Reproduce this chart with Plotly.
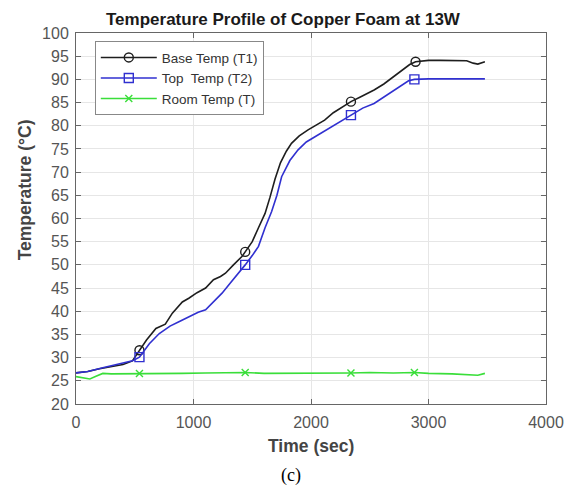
import plotly.graph_objects as go

# ---- data ----
base_t = [0, 100, 200, 300, 400, 480, 540, 600, 680, 760, 820, 905, 960, 1030, 1103, 1170,
          1230, 1272, 1340, 1412, 1440, 1500, 1553, 1609, 1650, 1694, 1740, 1790, 1834, 1900,
          1975, 2050, 2116, 2190, 2256, 2340, 2420, 2537, 2620, 2700, 2780, 2840, 2890, 3000,
          3100, 3200, 3325, 3380, 3420, 3480]
base_T = [26.7, 27.0, 27.6, 28.0, 28.5, 29.3, 31.6, 33.8, 36.3, 37.2, 39.6, 42.0, 42.8, 44.0,
          45.0, 46.8, 47.5, 48.2, 50.0, 51.8, 52.8, 55.0, 58.0, 61.1, 64.5, 68.5, 72.0, 74.5,
          76.2, 77.8, 79.1, 80.2, 81.2, 82.8, 83.8, 85.2, 86.2, 87.7, 89.0, 90.5, 92.0, 93.2,
          93.8, 94.1, 94.1, 94.1, 94.0, 93.5, 93.3, 93.8]

top_t = [0, 100, 228, 300, 400, 481, 540, 624, 709, 800, 880, 962, 1040, 1103, 1170, 1243,
         1310, 1384, 1440, 1500, 1553, 1609, 1665, 1710, 1750, 1820, 1890, 1960, 2031, 2120,
         2200, 2280, 2340, 2440, 2537, 2620, 2700, 2780, 2830, 2880, 3000, 3200, 3480]
top_T = [26.7, 27.0, 27.8, 28.2, 28.7, 29.3, 30.1, 33.0, 35.2, 36.8, 37.8, 38.8, 39.8, 40.3,
         42.0, 43.9, 46.0, 48.2, 50.0, 52.0, 54.0, 58.0, 61.5, 65.0, 69.0, 72.5, 74.8, 76.5,
         77.6, 79.0, 80.2, 81.3, 82.3, 83.8, 84.8, 86.2, 87.5, 88.8, 89.7, 90.0, 90.1, 90.1, 90.1]

room_t = [0, 60, 118, 170, 228, 300, 400, 540, 700, 900, 1100, 1300, 1440, 1600, 1800, 2000,
          2200, 2340, 2500, 2700, 2880, 3000, 3200, 3350, 3420, 3480]
room_T = [25.9, 25.6, 25.4, 26.0, 26.6, 26.5, 26.5, 26.6, 26.5, 26.6, 26.7, 26.7, 26.8, 26.6,
          26.6, 26.7, 26.6, 26.7, 26.8, 26.7, 26.8, 26.6, 26.5, 26.3, 26.2, 26.6]

base_marker_t = [540, 1440, 2340, 2890]
top_marker_t = [540, 1440, 2340, 2880]
room_marker_t = [540, 1440, 2340, 2880]

x_ticks = [0, 1000, 2000, 3000, 4000]
y_ticks = list(range(20, 101, 5))

series = [
    ("Base Temp (T1)", base_t, base_T, base_marker_t, "#1e1e1e", "circle-open", 9),
    ("Top  Temp (T2)", top_t, top_T, top_marker_t, "#3030d0", "square-open", 9),
    ("Room Temp (T)", room_t, room_T, room_marker_t, "#3ade3a", "x-thin-open", 7),
]

fig = go.Figure()
for name, t, T, mt, color, sym, ms in series:
    fig.add_trace(go.Scatter(x=t, y=T, mode="lines", line=dict(color=color, width=1.6),
                             showlegend=False, legendgroup=name, hoverinfo="skip"))
    my = [T[t.index(v)] for v in mt]
    fig.add_trace(go.Scatter(x=mt, y=my, mode="markers", showlegend=False, legendgroup=name,
                             marker=dict(symbol=sym, size=ms, color=color,
                                         line=dict(color=color, width=1.4))))
    fig.add_trace(go.Scatter(x=[None], y=[None], mode="lines+markers", name=name,
                             legendgroup=name, line=dict(color=color, width=1.6),
                             marker=dict(symbol=sym, size=ms, color=color,
                                         line=dict(color=color, width=1.4))))

axis_common = dict(showgrid=True, gridcolor="#e6e6e6", gridwidth=1, zeroline=False,
                   showline=True, linecolor="#666666", linewidth=1, mirror="ticks",
                   ticks="inside", ticklen=5, tickcolor="#666666",
                   tickfont=dict(family="Liberation Sans, Arial", size=16, color="#555555"))

FONT = "Liberation Sans, Arial"
fig.update_layout(
    width=576, height=491,
    margin=dict(l=76, r=26, t=33, b=87),
    paper_bgcolor="white", plot_bgcolor="white",
    font=dict(family=FONT, color="#222222"),
    xaxis=dict(range=[0, 4000], tickvals=x_ticks, ticklabelstandoff=4, **axis_common),
    yaxis=dict(range=[20, 100], tickvals=y_ticks, ticklabelstandoff=3, **axis_common),
    legend=dict(x=0.04, y=0.978, xanchor="left", yanchor="top",
                bgcolor="white", bordercolor="#888888", borderwidth=1,
                font=dict(family=FONT, size=13.5, color="#333333"), tracegroupgap=0,
                itemwidth=56),
    annotations=[
        dict(text="<b>Temperature Profile of Copper Foam at 13W</b>", x=0.441, y=1.036,
             xref="paper", yref="paper", xanchor="center", yanchor="middle", showarrow=False,
             font=dict(family=FONT, size=17, color="#1a1a1a")),
        dict(text="<b>Temperature (°C)</b>", x=-0.1076, y=0.577, textangle=-90,
             xref="paper", yref="paper", xanchor="center", yanchor="middle", showarrow=False,
             font=dict(family=FONT, size=17.5, color="#444444")),
        dict(text="<b>Time (sec)</b>", x=0.5, y=-0.113,
             xref="paper", yref="paper", xanchor="center", yanchor="middle", showarrow=False,
             font=dict(family=FONT, size=17.5, color="#444444")),
        dict(text="(c)", x=0.458, y=-0.194, xref="paper", yref="paper",
             xanchor="center", yanchor="middle", showarrow=False,
             font=dict(family="Liberation Serif, Times New Roman", size=18, color="#000000")),
    ],
)

fig.write_html("out.html", config={"displayModeBar": False},
               post_script="document.body.style.margin='0px';")
